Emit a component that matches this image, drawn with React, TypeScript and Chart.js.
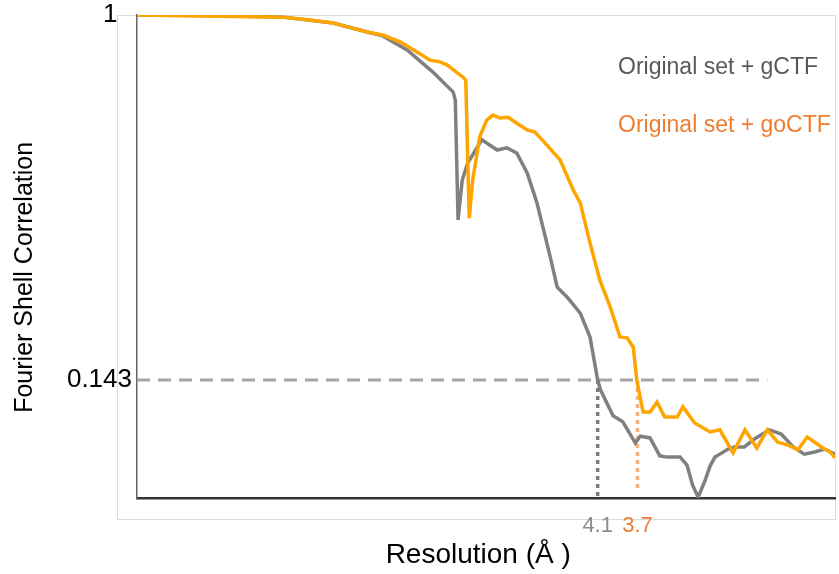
import React, { useEffect, useRef } from "react";
import { Chart, registerables } from "chart.js";

Chart.register(...registerables);

// Shell index (0..100 across the resolution axis) and FSC values
const gctfShell = [0, 13.3, 20.9, 28.1, 33.0, 35.2, 38.7, 42.4, 45.3, 45.6, 46.0, 46.6, 47.4, 49.4, 51.6, 53.0, 54.4, 55.9, 57.3, 59.2, 60.2, 61.6, 63.5, 64.9, 66.0, 66.4, 68.2, 69.6, 70.6, 71.4, 72.1, 73.5, 74.9, 75.9, 77.8, 78.8, 79.6, 80.4, 81.4, 82.1, 82.8, 83.5, 84.7, 85.6, 87.0, 88.5, 90.6, 92.3, 94.0, 95.6, 97.1, 98.5, 100];
const gctfFsc = [1, 0.998, 0.995, 0.981, 0.96, 0.951, 0.918, 0.866, 0.819, 0.8, 0.519, 0.613, 0.653, 0.707, 0.683, 0.688, 0.676, 0.629, 0.559, 0.432, 0.361, 0.338, 0.3, 0.244, 0.143, 0.12, 0.059, 0.045, 0.017, -0.005, 0.011, 0.007, -0.035, -0.038, -0.038, -0.057, -0.104, -0.132, -0.092, -0.059, -0.038, -0.031, -0.019, -0.014, -0.014, 0.005, 0.026, 0.016, -0.014, -0.031, -0.026, -0.019, -0.031];

const goctfShell = [0, 20.9, 24.8, 28.1, 30.1, 33.0, 35.2, 37.7, 40.1, 42.0, 43.4, 44.4, 46.7, 47.1, 47.6, 48.1, 49.1, 50.1, 51.0, 52.0, 53.2, 54.4, 55.9, 57.0, 58.7, 60.6, 62.5, 63.5, 64.9, 66.3, 67.8, 69.2, 70.2, 71.1, 71.6, 72.5, 73.5, 74.5, 75.6, 77.4, 78.2, 79.9, 82.1, 83.5, 85.4, 87.1, 88.8, 90.3, 91.8, 93.3, 94.7, 96.0, 97.1, 98.3, 99.3, 100];
const goctfFsc = [1, 0.995, 0.988, 0.981, 0.972, 0.96, 0.953, 0.937, 0.913, 0.894, 0.89, 0.883, 0.854, 0.847, 0.523, 0.613, 0.714, 0.753, 0.765, 0.758, 0.76, 0.746, 0.73, 0.725, 0.695, 0.66, 0.589, 0.559, 0.465, 0.378, 0.314, 0.244, 0.242, 0.22, 0.143, 0.068, 0.068, 0.091, 0.056, 0.056, 0.08, 0.042, 0.021, 0.026, -0.028, 0.026, -0.017, 0.026, -0.003, -0.01, -0.021, 0.009, -0.003, -0.017, -0.026, -0.04];

const seriesLabels = ["Original set + gCTF", "Original set + goCTF"];
const threshold = 0.143;
const thresholdEndShell = 90.3;
const resolutionShells = [66.0, 71.7];
const resolutionLabels = ["4.1", "3.7"];
const crossingBottoms = [-0.134, -0.12];
const yTickValues = [1, 0.143];
const yTickLabels = ["1  ", "0.143"];
const yMin = -0.134;
const yMax = 1;

const GRAY = "#808080";
const ORANGE = "#ffa500";
const TEXT_ORANGE = "#ed7d31";
const FONT = "'Liberation Sans', Arial, sans-serif";

function pts(xs: number[], ys: number[]) {
  return xs.map((x, i) => ({ x, y: ys[i] }));
}

const overlayPlugin = {
  id: "overlay",
  beforeDraw(chart: any) {
    const { ctx, chartArea } = chart;
    ctx.save();
    ctx.strokeStyle = "#dcdcdc";
    ctx.lineWidth = 1;
    ctx.strokeRect(chartArea.left - 19.5, chartArea.top + 0.5, chartArea.right - chartArea.left + 20, chartArea.bottom - chartArea.top + 21);
    ctx.restore();
  },
  afterDraw(chart: any) {
    const { ctx, chartArea } = chart;
    ctx.save();
    ctx.font = `23px ${FONT}`;
    ctx.textBaseline = "middle";
    ctx.textAlign = "left";
    const x = chartArea.right - 217;
    ctx.fillStyle = "#595959";
    ctx.fillText(seriesLabels[0], x, chartArea.top + 53);
    ctx.fillStyle = TEXT_ORANGE;
    ctx.fillText(seriesLabels[1], x, chartArea.top + 111);
    ctx.restore();
  },
};

export default function App() {
  const ref = useRef<HTMLCanvasElement | null>(null);
  useEffect(() => {
    if (!ref.current) return;
    Chart.defaults.font.family = FONT;
    const chart = new Chart(ref.current, {
      type: "line",
      data: {
        datasets: [
          {
            label: seriesLabels[1],
            data: pts(goctfShell, goctfFsc),
            borderColor: ORANGE,
            borderWidth: 3.5,
            pointRadius: 0,
            tension: 0,
          },
          {
            label: seriesLabels[0],
            data: pts(gctfShell, gctfFsc),
            borderColor: GRAY,
            borderWidth: 3.5,
            pointRadius: 0,
            tension: 0,
          },
          {
            label: "gCTF crossing",
            data: [
              { x: resolutionShells[0], y: threshold },
              { x: resolutionShells[0], y: crossingBottoms[0] },
            ],
            borderColor: "#7a7a7a",
            borderWidth: 3.5,
            borderDash: [4, 4],
            pointRadius: 0,
          },
          {
            label: "goCTF crossing",
            data: [
              { x: resolutionShells[1], y: threshold },
              { x: resolutionShells[1], y: crossingBottoms[1] },
            ],
            borderColor: "#f4b183",
            borderWidth: 3.5,
            borderDash: [4, 4],
            pointRadius: 0,
          },
          {
            label: "0.143 threshold",
            data: [
              { x: 0, y: threshold },
              { x: thresholdEndShell, y: threshold },
            ],
            borderColor: "#a6a6a6",
            borderWidth: 3,
            borderDash: [13, 8],
            pointRadius: 0,
          },
        ],
      },
      options: {
        responsive: false,
        animation: false,
        events: [],
        layout: { padding: { top: 15, right: 4, left: 0, bottom: 0 } },
        plugins: { legend: { display: false }, tooltip: { enabled: false } },
        scales: {
          x: {
            type: "linear",
            min: 0,
            max: 100,
            grid: { display: false, drawTicks: false },
            border: { display: true, color: "#333333", width: 2.5 },
            afterBuildTicks: (scale: any) => {
              scale.ticks = resolutionShells.map((v) => ({ value: v }));
            },
            afterFit: (scale: any) => {
              scale.height = 76;
              scale.paddingLeft = 0;
              scale.paddingRight = 0;
            },
            ticks: {
              autoSkip: false,
              maxRotation: 0,
              padding: 15,
              font: { size: 22 },
              color: (c: any) => (c.index === 0 ? "#8c8c8c" : TEXT_ORANGE),
              callback: (_v: any, i: number) => resolutionLabels[i],
            },
            title: {
              display: true,
              text: "Resolution (Å )  ",
              color: "#000",
              font: { size: 28 },
              padding: { top: 0, bottom: 2 },
            },
          },
          y: {
            type: "linear",
            min: yMin,
            max: yMax,
            grid: { display: false, drawTicks: false },
            border: { display: true, color: "#666666", width: 1.5 },
            afterBuildTicks: (scale: any) => {
              scale.ticks = yTickValues.map((v) => ({ value: v }));
            },
            afterFit: (scale: any) => {
              scale.width = 137;
              scale.paddingTop = 0;
              scale.paddingBottom = 0;
            },
            ticks: {
              autoSkip: false,
              padding: 5,
              font: { size: 26 },
              color: "#000",
              callback: (_v: any, i: number) => yTickLabels[i],
            },
            title: {
              display: true,
              text: "Fourier Shell Correlation      ",
              color: "#000",
              font: { size: 25 },
              padding: { top: 10, bottom: 0 },
            },
          },
        },
      },
      plugins: [overlayPlugin],
    } as any);
    return () => chart.destroy();
  }, []);
  return (
    <div style={{ position: "absolute", left: 0, top: 0, width: 839, height: 574 }}>
      <canvas ref={ref} width={839} height={574} style={{ display: "block" }} />
    </div>
  );
}
